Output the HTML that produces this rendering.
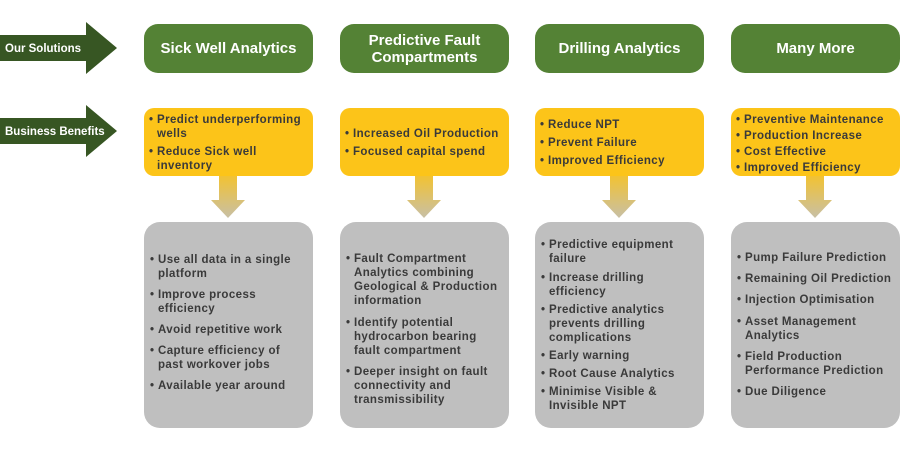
<!DOCTYPE html>
<html><head><meta charset="utf-8"><style>
body{margin:0;width:903px;height:450px;background:#fff;position:relative;font-family:"Liberation Sans",Arial,sans-serif;overflow:hidden}
.g{position:absolute;top:24px;width:169px;height:49px;background:#548235;border-radius:14px;color:#fff;font-weight:bold;font-size:15px;display:flex;align-items:center;justify-content:center;text-align:center;line-height:17px}
.y{position:absolute;top:108px;width:169px;height:68px;background:#fcc419;border-radius:10px;box-sizing:border-box;padding:0 2px 0 5px}
.gr{position:absolute;top:222px;width:169px;height:206px;background:#bfbfbf;border-radius:16px;box-sizing:border-box;padding:0 6px 0 6px}
ul{list-style:none;margin:0;padding:0}
li{position:relative;padding-left:8px;font-weight:bold;font-size:11.5px;letter-spacing:0.4px;line-height:14px;color:#3a3a3a}
li:before{content:"•";position:absolute;left:0}
</style></head><body>
<svg style="position:absolute;left:0;top:0" width="130" height="170">
<polygon points="0,35 86,35 86,22 117,48 86,74 86,61 0,61" fill="#375623"/>
<polygon points="0,118 86,118 86,105 117,131 86,157 86,144 0,144" fill="#375623"/>
<text x="5" y="52" fill="#fff" font-family="Liberation Sans" font-weight="bold" font-size="11.5">Our Solutions</text>
<text x="5" y="135" fill="#fff" font-family="Liberation Sans" font-weight="bold" font-size="11.5">Business Benefits</text>
</svg>
<div class="g" style="left:144px">Sick Well Analytics</div>
<div class="g" style="left:340px">Predictive Fault<br>Compartments</div>
<div class="g" style="left:535px">Drilling Analytics</div>
<div class="g" style="left:731px">Many More</div>

<div class="y" style="left:144px;padding-top:5px"><ul><li>Predict underperforming wells</li><li style="margin-top:4px">Reduce Sick well inventory</li></ul></div>
<div class="y" style="left:340px;padding-top:19px"><ul><li>Increased Oil Production</li><li style="margin-top:4px">Focused capital spend</li></ul></div>
<div class="y" style="left:535px;padding-top:10px"><ul><li>Reduce NPT</li><li style="margin-top:4px">Prevent Failure</li><li style="margin-top:4px">Improved Efficiency</li></ul></div>
<div class="y" style="left:731px;padding-top:5px"><ul><li>Preventive Maintenance</li><li style="margin-top:2px">Production Increase</li><li style="margin-top:2px">Cost Effective</li><li style="margin-top:2px">Improved Efficiency</li></ul></div>

<svg style="position:absolute;left:0;top:0" width="903" height="225">
<defs><linearGradient id="a" x1="0" y1="0" x2="0" y2="1"><stop offset="0" stop-color="#f2c233"/><stop offset="1" stop-color="#c8c0a6"/></linearGradient></defs>
<g fill="url(#a)">
<polygon points="219,176 237,176 237,200 245,200 228,218 211,200 219,200"/>
<polygon points="415,176 433,176 433,200 441,200 424,218 407,200 415,200"/>
<polygon points="610,176 628,176 628,200 636,200 619,218 602,200 610,200"/>
<polygon points="806,176 824,176 824,200 832,200 815,218 798,200 806,200"/>
</g></svg>

<div class="gr" style="left:144px;padding-top:31px"><ul><li>Use all data in a single platform</li><li style="margin-top:7px">Improve process efficiency</li><li style="margin-top:7px">Avoid repetitive work</li><li style="margin-top:7px">Capture efficiency of past workover jobs</li><li style="margin-top:7px">Available year around</li></ul></div>
<div class="gr" style="left:340px;padding-top:30px"><ul><li>Fault Compartment Analytics combining Geological &amp; Production information</li><li style="margin-top:8px">Identify potential hydrocarbon bearing fault compartment</li><li style="margin-top:7px">Deeper insight on fault connectivity and transmissibility</li></ul></div>
<div class="gr" style="left:535px;padding-top:16px"><ul><li>Predictive equipment failure</li><li style="margin-top:5px">Increase drilling efficiency</li><li style="margin-top:4px">Predictive analytics prevents drilling complications</li><li style="margin-top:4px">Early warning</li><li style="margin-top:4px">Root Cause Analytics</li><li style="margin-top:4px">Minimise Visible &amp; Invisible NPT</li></ul></div>
<div class="gr" style="left:731px;padding-top:29px;padding-right:2px"><ul><li>Pump Failure Prediction</li><li style="margin-top:7px">Remaining Oil Prediction</li><li style="margin-top:7px">Injection Optimisation</li><li style="margin-top:8px">Asset Management Analytics</li><li style="margin-top:7px">Field Production Performance Prediction</li><li style="margin-top:7px">Due Diligence</li></ul></div>
</body></html>
